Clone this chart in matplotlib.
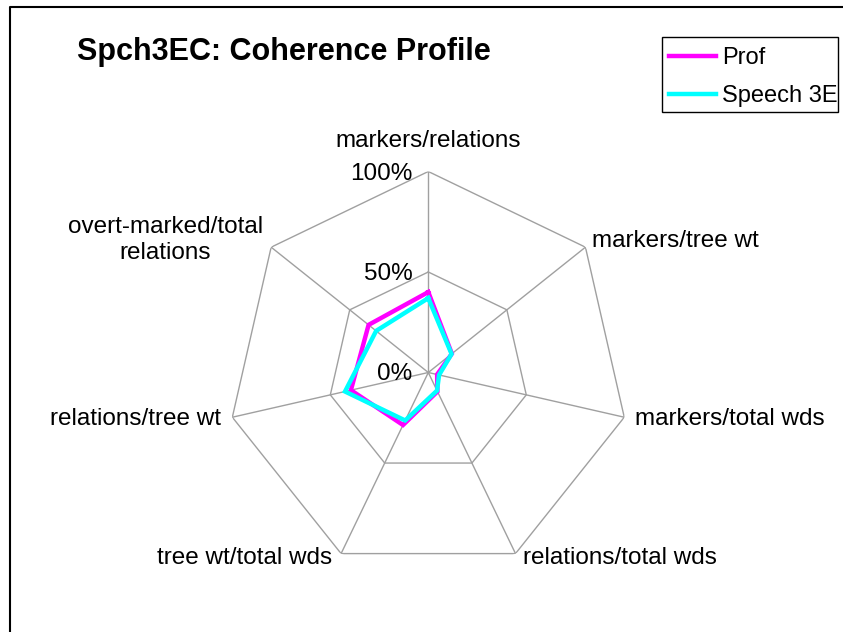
import numpy as np
import matplotlib
matplotlib.use("Agg")
import matplotlib.pyplot as plt
from matplotlib.lines import Line2D
from matplotlib.patches import Rectangle

plt.rcParams['font.family'] = ['Liberation Sans', 'DejaVu Sans']

title = "Spch3EC: Coherence Profile"
categories = ['markers/relations', 'markers/tree wt', 'markers/total wds',
              'relations/total wds', 'tree wt/total wds', 'relations/tree wt',
              'overt-marked/total\nrelations']
prof = [0.40, 0.15, 0.045, 0.105, 0.29, 0.395, 0.38]
speech = [0.37, 0.148, 0.055, 0.10, 0.265, 0.425, 0.332]
series_names = ['Prof', 'Speech 3E']
series_colors = ['#FF00FF', '#00FFFF']
r_ticks = [0.0, 0.5, 1.0]
r_tick_labels = ['0%', '50%', '100%']

W, H = 843, 632
fig = plt.figure(figsize=(W / 100, H / 100), dpi=100)
fig.patch.set_facecolor('white')

cx, cy, R = 428.3, 372.5, 201.0
ax = fig.add_axes([(cx - R) / W, (H - cy - R) / H, 2 * R / W, 2 * R / H],
                  projection='polar')
ax.set_theta_zero_location('N')
ax.set_theta_direction(-1)
ax.set_ylim(0, 1)
ax.grid(False)
ax.set_xticks([])
ax.set_yticks([])
ax.spines['polar'].set_visible(False)
ax.patch.set_alpha(0)

n = len(categories)
theta = np.linspace(0, 2 * np.pi, n, endpoint=False)
theta_c = np.concatenate([theta, theta[:1]])

grid_col = '#a0a0a0'
# polygon rings
for r in r_ticks[1:]:
    ax.plot(theta_c, [r] * (n + 1), color=grid_col, lw=1.0, zorder=1)
# spokes
for t in theta:
    ax.plot([t, t], [0, 1], color=grid_col, lw=1.0, zorder=1)

# data
for vals, name, col in zip([prof, speech], series_names, series_colors):
    v = list(vals) + [vals[0]]
    ax.plot(theta_c, v, color=col, lw=3.2, label=name, zorder=3,
            solid_joinstyle='miter')

FS = 17.5
# radial tick labels
for r, lab in zip(r_ticks, r_tick_labels):
    ax.annotate(lab, xy=(0, r), xytext=(-16, -2), textcoords='offset pixels',
                ha='right', va='center', fontsize=FS, annotation_clip=False)

# category labels
offsets = [((0, 30.5), 'center'), ((6.5, 6), 'left'), ((10.7, -1.7), 'left'),
           ((7.5, -4.4), 'left'), ((-9, -4.4), 'right'), ((-11, -1.7), 'right'),
           ((-106, 7), 'center')]
for t, lab, (off, ha) in zip(theta, categories, offsets):
    ax.annotate(lab, xy=(t, 1.0), xytext=off, textcoords='offset pixels',
                ha=ha, va='center', fontsize=FS, multialignment='center',
                linespacing=1.2, annotation_clip=False)

# title
fig.text(77 / W, 1 - 52 / H, title, fontsize=22, fontweight='bold',
         ha='left', va='center')

# legend (frame drawn separately)
leg = fig.legend(loc='upper left', bbox_to_anchor=(662 / W, 1 - 40 / H),
                 bbox_transform=fig.transFigure, borderaxespad=0,
                 frameon=False, fontsize=17, handlelength=2.0,
                 handletextpad=0.25, labelspacing=0.67, borderpad=0.3)
fig.add_artist(Rectangle((662 / W, 1 - 112 / H), (838 - 662) / W, 75 / H,
                         transform=fig.transFigure, fill=False,
                         edgecolor='black', lw=1.0))

# outer frame (top and left edges)
fig.add_artist(Line2D([10 / W, 10 / W, 1.0], [0.0, 1 - 7 / H, 1 - 7 / H],
                      transform=fig.transFigure, color='black', lw=1.5))

fig.savefig('out.png', dpi=100, facecolor='white')
